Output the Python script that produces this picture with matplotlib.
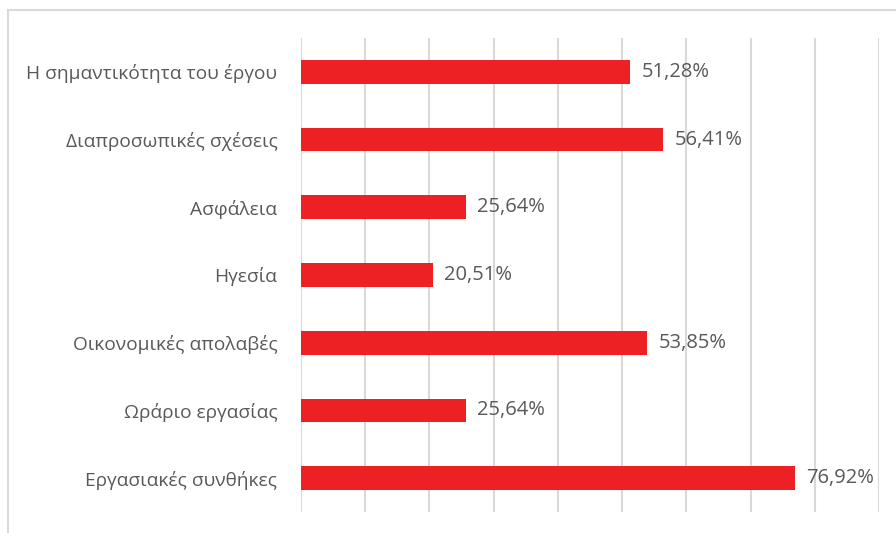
import matplotlib.pyplot as plt
import numpy as np
from matplotlib.lines import Line2D

categories = ["Η σημαντικότητα του έργου", "Διαπροσωπικές σχέσεις", "Ασφάλεια", "Ηγεσία",
              "Οικονομικές απολαβές", "Ωράριο εργασίας", "Εργασιακές συνθήκες"]
values = [51.28, 56.41, 25.64, 20.51, 53.85, 25.64, 76.92]
value_labels = ["51,28%", "56,41%", "25,64%", "20,51%", "53,85%", "25,64%", "76,92%"]
grid_ticks = [0, 10, 20, 30, 40, 50, 60, 70, 80, 90]

plt.rcParams['font.family'] = ['Open Sans', 'DejaVu Sans']
text_color = '#595959'
bar_color = '#ED2024'
grid_color = '#D9D9D9'

fig = plt.figure(figsize=(8.96, 5.33), dpi=100)
ax = fig.add_axes([301 / 896, 1 - 512 / 533, (879 - 301) / 896, (512 - 38) / 533])

y = np.arange(len(categories))
ax.barh(y, values, height=0.35, color=bar_color, zorder=3)
for yi, v, lab in zip(y, values, value_labels):
    ax.text(v + 1.8, yi, lab, va='center', ha='left', fontsize=14.5, color=text_color)

ax.set_xlim(0, 90)
ax.set_ylim(len(categories) - 0.5, -0.5)
ax.set_xticks(grid_ticks)
ax.set_xticklabels([])
ax.set_yticks(y)
ax.set_yticklabels(categories, fontsize=13.8, color=text_color)
ax.tick_params(axis='both', length=0)
ax.tick_params(axis='y', pad=17)
ax.grid(axis='x', color=grid_color, linewidth=1.5, zorder=0)
for s in ax.spines.values():
    s.set_visible(False)

# chart border (top and left visible in the crop)
fig.add_artist(Line2D([8 / 896, 8 / 896], [0, 1 - 10 / 533], color=grid_color, lw=1.5,
                      transform=fig.transFigure))
fig.add_artist(Line2D([8 / 896, 1], [1 - 10 / 533, 1 - 10 / 533], color=grid_color, lw=1.5,
                      transform=fig.transFigure))

fig.savefig('out.png', dpi=100)
